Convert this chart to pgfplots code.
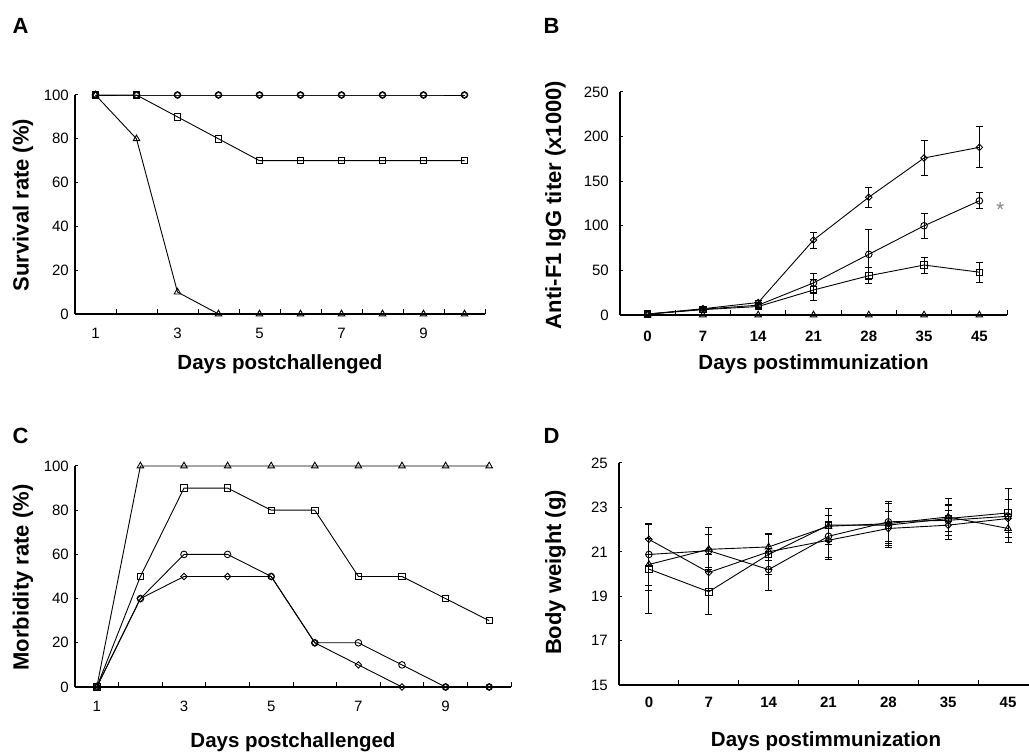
\documentclass[border=0pt]{standalone}
\usepackage{pgfplots}
\pgfplotsset{compat=1.18}
\usepackage{fontspec}
\setmainfont{Liberation Sans}

\pgfplotsset{
  panel/.style={
    scale only axis, clip=false,
    axis x line*=bottom, axis y line*=left,
    axis line style={line width=1.2pt, black},
    tick align=inside,
    major tick length=3pt, minor tick length=4.5pt,
    tick style={line width=1pt, black},
    major x tick style={draw=none},
    /pgf/number format/assume math mode=true,
    tick label style={font=\fontsize{15}{18}\selectfont},
    yticklabel style={inner sep=0pt, anchor=east},
    xticklabel style={inner sep=0pt, anchor=north},
  },
  ln/.style={black, line width=0.9pt, mark options={solid}},
  sq/.style={ln, mark=square, mark size=3.2pt},
  ci/.style={ln, mark=o, mark size=3.3pt},
  tr/.style={ln, mark=triangle, mark size=3.8pt},
  di/.style={ln, mark=diamond, mark size=3.3pt, mark options={solid, xscale=1.3}},
  eb/.style={
    error bars/y dir=both, error bars/y explicit,
    error bars/error bar style={line width=0.9pt, black},
    error bars/error mark options={rotate=90, mark size=3.5pt, line width=0.9pt, black},
  },
}

\begin{document}
\begin{tikzpicture}
\useasboundingbox (0,0) rectangle (1029pt,752pt);

% ---------- A: survival ----------
\begin{axis}[panel, at={(75pt,438pt)}, anchor=south west,
  width=410pt, height=219pt,
  xmin=0.5, xmax=10.5, ymin=0, ymax=100,
  xtick={1,3,5,7,9}, minor xtick={1.5,2.5,...,10.5},
  ytick={0,20,...,100},
  yticklabel style={xshift=-6pt}, xticklabel style={yshift=-14pt}]
\addplot[di] coordinates {(1,100) (2,100) (3,100) (4,100) (5,100) (6,100) (7,100) (8,100) (9,100) (10,100)};
\addplot[ci] coordinates {(1,100) (2,100) (3,100) (4,100) (5,100) (6,100) (7,100) (8,100) (9,100) (10,100)};
\addplot[sq] coordinates {(1,100) (2,100) (3,90) (4,80) (5,70) (6,70) (7,70) (8,70) (9,70) (10,70)};
\addplot[tr] coordinates {(1,100) (2,80) (3,10) (4,0) (5,0) (6,0) (7,0) (8,0) (9,0) (10,0)};
\end{axis}

% ---------- B: IgG titer ----------
\begin{axis}[panel, at={(620pt,437pt)}, anchor=south west,
  width=387pt, height=223pt,
  xmin=-0.5, xmax=6.5, ymin=0, ymax=250,
  xtick={0,...,6}, xticklabels={0,7,14,21,28,35,45},
  minor xtick={0.5,1.5,...,6.5},
  ytick={0,50,...,250},
  yticklabel style={xshift=-11pt},
  xticklabel style={yshift=-16pt, font=\fontsize{15}{18}\selectfont\bfseries}]
\addplot[tr] coordinates {(0,0) (1,0) (2,0) (3,0) (4,0) (5,0) (6,0)};
\addplot[sq, eb] coordinates {(0,1) +- (0,0) (1,6) +- (0,1) (2,9.5) +- (0,2) (3,28) +- (0,12) (4,44) +- (0,9) (5,56) +- (0,9) (6,48) +- (0,11)};
\addplot[ci, eb] coordinates {(0,1) +- (0,0) (1,6.5) +- (0,1) (2,11) +- (0,2) (3,36) +- (0,11) (4,68) +- (0,28) (5,100) +- (0,14) (6,128) +- (0,9)};
\addplot[di, eb] coordinates {(0,1) +- (0,0) (1,7) +- (0,1) (2,14) +- (0,2) (3,84) +- (0,9) (4,132) +- (0,11) (5,176) +- (0,20) (6,188) +- (0,23)};
\node[gray, inner sep=0pt, font=\fontsize{20}{20}\selectfont] at (axis cs:6.38,118) {*};
\end{axis}

% ---------- C: morbidity ----------
\begin{axis}[panel, at={(75pt,65pt)}, anchor=south west,
  width=436pt, height=221pt,
  xmin=0.5, xmax=10.5, ymin=0, ymax=100,
  xtick={1,3,5,7,9}, minor xtick={1.5,2.5,...,10.5},
  ytick={0,20,...,100},
  yticklabel style={xshift=-6pt}, xticklabel style={yshift=-14pt}]
\addplot[tr] coordinates {(1,0) (2,100) (3,100) (4,100) (5,100) (6,100) (7,100) (8,100) (9,100) (10,100)};
\addplot[sq] coordinates {(1,0) (2,50) (3,90) (4,90) (5,80) (6,80) (7,50) (8,50) (9,40) (10,30)};
\addplot[ci] coordinates {(1,0) (2,40) (3,60) (4,60) (5,50) (6,20) (7,20) (8,10) (9,0) (10,0)};
\addplot[di] coordinates {(1,0) (2,40) (3,50) (4,50) (5,50) (6,20) (7,10) (8,0) (9,0) (10,0)};
\end{axis}

% ---------- D: body weight ----------
\begin{axis}[panel, at={(619pt,67pt)}, anchor=south west,
  width=419pt, height=222pt,
  xmin=-0.5, xmax=6.5, ymin=15, ymax=25,
  xtick={0,...,6}, xticklabels={0,7,14,21,28,35,45},
  minor xtick={0.5,1.5,...,6.5},
  ytick={15,17,...,25},
  yticklabel style={xshift=-11pt},
  xticklabel style={yshift=-12pt, font=\fontsize{15}{18}\selectfont\bfseries}]
\addplot[di, eb] coordinates {(0,21.56) +- (0,0.7) (1,20.07) +- (0,0.8) (2,21.0) +- (0,0.8) (3,21.52) +- (0,0.85) (4,22.05) +- (0,0.75) (5,22.2) +- (0,0.65) (6,22.5) +- (0,0.85)};
\addplot[ci, eb] coordinates {(0,20.88) +- (0,1.4) (1,21.05) +- (0,0.75) (2,20.2) +- (0,0.95) (3,21.7) +- (0,0.95) (4,22.35) +- (0,0.9) (5,22.42) +- (0,0.7) (6,22.6) +- (0,0.75)};
\addplot[tr, eb] coordinates {(0,20.43) +- (0,1.15) (1,21.11) +- (0,1.0) (2,21.22) +- (0,0.6) (3,22.15) +- (0,0.8) (4,22.27) +- (0,0.9) (5,22.57) +- (0,0.85) (6,22.05) +- (0,0.65)};
\addplot[sq, eb] coordinates {(0,20.22) +- (0,2.0) (1,19.2) +- (0,1.0) (2,20.88) +- (0,0.9) (3,22.2) +- (0,0.75) (4,22.2) +- (0,1.0) (5,22.5) +- (0,0.6) (6,22.75) +- (0,1.1)};
\end{axis}

% ---------- labels ----------
\begin{scope}[every node/.style={inner sep=0pt}]
\node[anchor=base west, font=\fontsize{22}{24}\selectfont\bfseries] at (12.5pt,718.7pt) {A};
\node[anchor=base west, font=\fontsize{22}{24}\selectfont\bfseries] at (543.5pt,718.7pt) {B};
\node[anchor=base west, font=\fontsize{22}{24}\selectfont\bfseries] at (12.5pt,308pt) {C};
\node[anchor=base west, font=\fontsize{22}{24}\selectfont\bfseries] at (543.5pt,308pt) {D};

\node[anchor=base, font=\fontsize{20.5}{24}\selectfont\bfseries] at (280pt,382pt) {Days postchallenged};
\node[anchor=base, font=\fontsize{20.5}{24}\selectfont\bfseries] at (813.5pt,382pt) {Days postimmunization};
\node[anchor=base, font=\fontsize{20.5}{24}\selectfont\bfseries] at (293pt,4.7pt) {Days postchallenged};
\node[anchor=base, font=\fontsize{20.5}{24}\selectfont\bfseries] at (826pt,5pt) {Days postimmunization};

\node[anchor=base, rotate=90, font=\fontsize{22}{24}\selectfont\bfseries] at (28.5pt,547pt) {Survival rate (\%)};
\node[anchor=base, rotate=90, font=\fontsize{22}{24}\selectfont\bfseries] at (561pt,547pt) {Anti-F1 IgG titer (x1000)};
\node[anchor=base, rotate=90, font=\fontsize{22}{24}\selectfont\bfseries] at (28.5pt,174.5pt) {Morbidity rate (\%)};
\node[anchor=base, rotate=90, font=\fontsize{22}{24}\selectfont\bfseries] at (561pt,179.5pt) {Body weight (g)};
\end{scope}
\end{tikzpicture}
\end{document}
